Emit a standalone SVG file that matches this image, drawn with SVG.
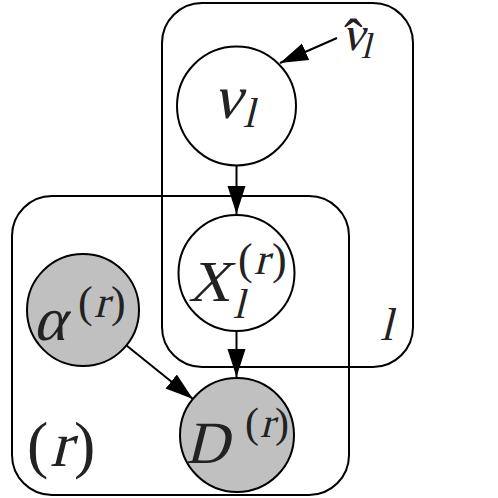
<svg xmlns="http://www.w3.org/2000/svg" width="498" height="498" viewBox="0 0 498 498">
<style>
.plate{fill:none;stroke:#000;stroke-width:2}
.node{stroke:#000;stroke-width:2}
.obs{fill:#c0c0c0}
.lat{fill:#fff}
.edge{stroke:#000;stroke-width:2;fill:none;marker-end:url(#ah)}
text{font-family:"Liberation Serif","Times New Roman",serif;fill:#222}
</style>
<defs>
<marker id="ah" markerWidth="28" markerHeight="20" refX="28" refY="10" orient="auto" markerUnits="userSpaceOnUse">
<path d="M0,1 L28,10 L0,19 Z" fill="#000"/>
</marker>
</defs>
<rect width="498" height="498" fill="#fff"/>
<g id="plate-l"><rect class="plate" x="162" y="3" width="251" height="364" rx="40" ry="40"/>
<text transform="translate(380,340) skewX(-14)" font-size="46">l</text></g>
<g id="plate-r"><rect class="plate" x="12" y="196" width="337" height="299" rx="40" ry="40"/>
<text x="27" y="466" font-size="64">(</text><text transform="translate(50,466) skewX(-14)" font-size="64">r</text><text x="74" y="466" font-size="64">)</text></g>
<g id="connectors">
<line class="edge" x1="236.5" y1="166" x2="236.5" y2="214"/>
<line class="edge" x1="236.5" y1="331" x2="236.5" y2="377"/>
<line class="edge" x1="126.5" y1="345.5" x2="193" y2="399"/>
<line class="edge" x1="337" y1="38" x2="280" y2="63"/>
</g>
<g id="nuhat"><text transform="translate(342,50) skewX(-14)" font-size="48">ν</text><text x="344" y="58" font-size="56">ˆ</text><text transform="translate(361,58) skewX(-14)" font-size="36">l</text></g>
<g id="nu"><circle class="node lat" cx="236.5" cy="106" r="59.5"/>
<text transform="translate(213,118) skewX(-14)" font-size="62">ν</text><text transform="translate(243,127) skewX(-14)" font-size="42">l</text></g>
<g id="X"><circle class="node lat" cx="236.5" cy="273" r="58"/>
<text transform="translate(188,301) skewX(-14)" font-size="58">X</text><text transform="translate(233,318) skewX(-14)" font-size="42">l</text>
<text x="238" y="274" font-size="44">(</text><text transform="translate(254,274) skewX(-14)" font-size="44">r</text><text x="272" y="274" font-size="44">)</text></g>
<g id="alpha"><circle class="node obs" cx="83" cy="310" r="56"/>
<text transform="translate(33,340) skewX(-14)" font-size="62">α</text>
<text x="78" y="317" font-size="44">(</text><text transform="translate(94,317) skewX(-14)" font-size="44">r</text><text x="111" y="317" font-size="44">)</text></g>
<g id="D"><circle class="node obs" cx="237" cy="435" r="57"/>
<text transform="translate(185,463) skewX(-14)" font-size="60">D</text>
<text x="245" y="437" font-size="42">(</text><text transform="translate(260,437) skewX(-14)" font-size="42">r</text><text x="275" y="437" font-size="42">)</text></g>
</svg>
